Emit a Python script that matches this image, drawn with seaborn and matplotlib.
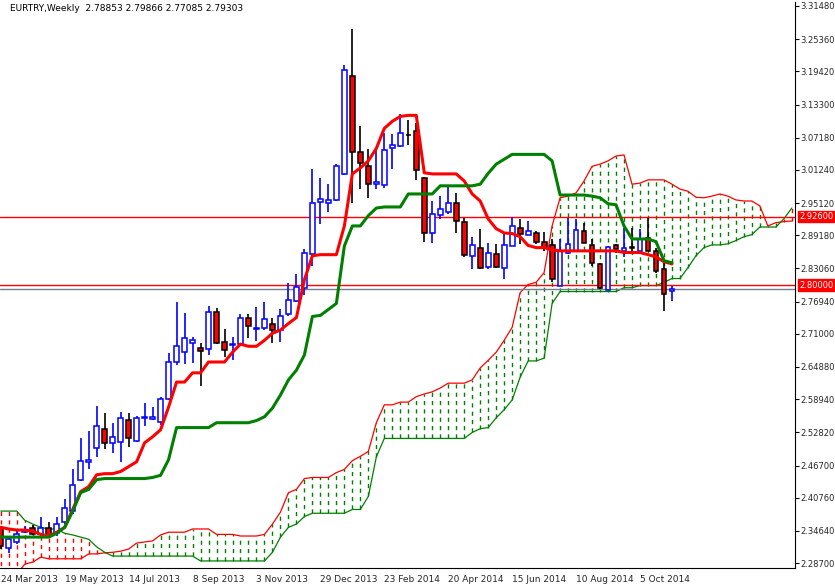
import matplotlib
matplotlib.use("Agg")
import matplotlib.pyplot as plt
import seaborn as sns
import numpy as np
import pandas as pd

sns.set_style("white")
plt.rcParams['font.family'] = ['DejaVu Sans']

opens = [2.351,2.315,2.326,2.344,2.351,2.340,2.351,2.342,2.362,2.383,2.441,2.474,2.500,2.535,2.509,2.511,2.551,2.513,2.555,2.553,
         2.548,2.590,2.658,2.676,2.693,2.683,2.682,2.750,2.695,2.689,2.691,2.739,2.718,2.720,2.729,2.717,2.746,2.770,2.795,2.858,
         2.953,2.951,2.957,3.005,3.185,3.045,3.019,2.986,2.984,3.052,3.056,3.076,3.084,2.997,2.896,2.929,2.935,2.951,2.917,2.854,
         2.869,2.834,2.858,2.832,2.872,2.905,2.893,2.896,2.880,2.874,2.799,2.860,2.862,2.900,2.874,2.838,2.790,2.874,2.863,2.869,
         2.863,2.887,2.862,2.829,2.7885]
highs = [2.355,2.333,2.346,2.355,2.357,2.373,2.362,2.373,2.405,2.461,2.518,2.531,2.577,2.564,2.546,2.566,2.564,2.559,2.583,2.575,
         2.594,2.674,2.768,2.748,2.704,2.693,2.761,2.757,2.718,2.704,2.746,2.746,2.759,2.768,2.740,2.755,2.803,2.821,2.867,3.014,
         2.997,2.986,3.023,3.206,3.273,3.093,3.051,3.051,3.080,3.078,3.115,3.104,3.098,2.999,2.955,2.964,2.981,2.970,2.924,2.889,
         2.904,2.878,2.875,2.894,2.926,2.922,2.918,2.900,2.898,2.885,2.884,2.924,2.922,2.915,2.885,2.841,2.872,2.876,2.905,2.905,
         2.904,2.924,2.869,2.841,2.7987]
lows = [2.313,2.306,2.322,2.342,2.338,2.335,2.335,2.337,2.359,2.377,2.438,2.461,2.483,2.498,2.491,2.474,2.502,2.511,2.540,2.551,
        2.542,2.588,2.652,2.654,2.656,2.614,2.671,2.691,2.667,2.662,2.689,2.702,2.696,2.717,2.693,2.695,2.742,2.768,2.781,2.836,
        2.913,2.935,2.955,3.003,2.951,2.977,2.961,2.977,2.979,3.014,3.054,3.058,2.994,2.880,2.878,2.922,2.931,2.896,2.852,2.829,
        2.830,2.830,2.832,2.812,2.872,2.876,2.893,2.876,2.863,2.805,2.799,2.858,2.862,2.878,2.836,2.792,2.790,2.860,2.851,2.863,
        2.863,2.862,2.823,2.753,2.7709]
closes = [2.318,2.331,2.340,2.348,2.340,2.351,2.337,2.359,2.388,2.432,2.476,2.478,2.540,2.509,2.520,2.555,2.518,2.555,2.556,2.557,
          2.590,2.658,2.687,2.702,2.698,2.678,2.750,2.693,2.680,2.691,2.740,2.724,2.720,2.737,2.717,2.742,2.773,2.797,2.860,2.951,
          2.959,2.957,3.019,3.197,3.045,3.025,2.986,2.990,3.049,3.058,3.080,3.076,3.012,2.896,2.931,2.940,2.951,2.918,2.856,2.873,
          2.832,2.860,2.834,2.874,2.909,2.894,2.900,2.880,2.869,2.812,2.863,2.876,2.902,2.878,2.840,2.794,2.871,2.867,2.869,2.868,
          2.885,2.863,2.825,2.783,2.7930]

tenkan = [2.353,2.350,2.348,2.348,2.346,2.340,2.337,2.344,2.353,2.386,2.419,2.428,2.450,2.452,2.452,2.456,2.465,2.474,2.509,2.520,
          2.533,2.575,2.621,2.621,2.638,2.638,2.658,2.658,2.658,2.676,2.691,2.687,2.687,2.698,2.711,2.717,2.729,2.740,2.810,2.854,
          2.856,2.856,2.856,2.909,3.005,3.016,3.029,3.052,3.089,3.102,3.111,3.113,3.113,3.007,3.005,3.005,3.005,3.005,2.992,2.968,
          2.955,2.922,2.904,2.896,2.895,2.889,2.873,2.869,2.869,2.865,2.863,2.863,2.863,2.863,2.863,2.863,2.863,2.863,2.860,2.860,
          2.860,2.856,2.852,2.843,2.839]
kijun = [2.335,2.335,2.335,2.335,2.335,2.335,2.335,2.342,2.353,2.383,2.417,2.423,2.441,2.443,2.443,2.443,2.443,2.443,2.443,2.445,
         2.449,2.478,2.537,2.537,2.537,2.537,2.537,2.546,2.546,2.546,2.546,2.546,2.550,2.557,2.573,2.597,2.625,2.643,2.671,2.742,
         2.744,2.755,2.766,2.872,2.909,2.909,2.928,2.942,2.944,2.944,2.944,2.968,2.968,2.968,2.968,2.983,2.983,2.983,2.983,2.983,
         2.986,3.006,3.023,3.032,3.041,3.041,3.041,3.041,3.041,3.029,2.966,2.966,2.966,2.966,2.964,2.961,2.950,2.948,2.909,2.885,
         2.885,2.885,2.880,2.845,2.841]
span_a = [2.267,2.267,2.267,2.285,2.289,2.298,2.295,2.295,2.295,2.295,2.295,2.304,2.304,2.306,2.307,2.309,2.313,2.324,2.326,2.328,
          2.339,2.344,2.344,2.344,2.350,2.350,2.350,2.340,2.340,2.340,2.337,2.337,2.337,2.340,2.359,2.381,2.417,2.423,2.443,2.445,
          2.445,2.445,2.454,2.460,2.476,2.484,2.493,2.546,2.579,2.579,2.584,2.584,2.594,2.599,2.603,2.610,2.619,2.619,2.619,2.625,
          2.647,2.661,2.676,2.698,2.722,2.786,2.801,2.805,2.823,2.909,2.961,2.964,2.970,2.992,3.019,3.023,3.029,3.038,3.040,2.986,
          2.988,2.994,2.994,2.994,2.986,2.977,2.973,2.962,2.961,2.964,2.968,2.964,2.957,2.955,2.955,2.946,2.909,2.915,2.917,2.918]
span_b = [2.383,2.383,2.383,2.366,2.359,2.353,2.350,2.350,2.342,2.339,2.335,2.331,2.317,2.307,2.300,2.300,2.300,2.300,2.300,2.300,
          2.300,2.300,2.300,2.300,2.300,2.291,2.291,2.291,2.291,2.291,2.291,2.291,2.291,2.291,2.307,2.335,2.353,2.359,2.373,2.379,
          2.379,2.379,2.379,2.379,2.386,2.386,2.410,2.483,2.517,2.517,2.517,2.517,2.517,2.517,2.517,2.517,2.517,2.517,2.517,2.528,
          2.535,2.537,2.555,2.570,2.588,2.630,2.660,2.660,2.665,2.766,2.788,2.788,2.788,2.788,2.788,2.788,2.788,2.788,2.795,2.795,
          2.799,2.799,2.799,2.805,2.812,2.812,2.832,2.854,2.869,2.874,2.874,2.876,2.882,2.889,2.893,2.907,2.907,2.907,2.922,2.942]

date_labels = ["24 Mar 2013","19 May 2013","14 Jul 2013","8 Sep 2013","3 Nov 2013","29 Dec 2013",
               "23 Feb 2014","20 Apr 2014","15 Jun 2014","10 Aug 2014","5 Oct 2014"]
price_ticks = [3.31480,3.25360,3.19420,3.13300,3.07180,3.01240,2.95120,2.89180,2.83060,2.76940,
               2.71000,2.64880,2.58940,2.52820,2.46700,2.40760,2.34640,2.28700]
level_lines = [2.92600, 2.80000]
bid = 2.79303

W, H = 835, 584
fig = plt.figure(figsize=(W/100, H/100), dpi=100)
ax = fig.add_axes([0, 16/H, 795/W, 566/H])

n = len(opens)
idx = np.arange(n)
o, h, l, c = map(np.array, (opens, highs, lows, closes))

ci = np.arange(len(span_a))
a, b = np.array(span_a), np.array(span_b)
for i in ci:
    col = "#008000" if a[i] >= b[i] else "#ff0000"
    ax.vlines(i, min(a[i], b[i]), max(a[i], b[i]), colors=col, linestyles=(0, (3, 3)), lw=1, zorder=1)
ax.plot(ci, a, color="#ff0000", lw=0.9, zorder=2)
ax.plot(ci, b, color="#008000", lw=0.9, zorder=2)

for lv in level_lines:
    ax.axhline(lv, color="#ff0000", lw=1, zorder=2)
ax.axhline(bid, color="#708090", lw=1, zorder=2)

up = c > o
dn = c < o
wick_col = np.where(up, "#0000ff", "black")
ax.vlines(idx, l, h, colors=wick_col, lw=1.2, zorder=3)
body_lo = np.minimum(o, c)
body_h = np.maximum(np.abs(c - o), 0.0015)
fc = np.where(up, "white", np.where(dn, "#ff0000", "black"))
ec = np.where(up, "#0000ff", "black")
ax.bar(idx, body_h, bottom=body_lo, width=0.6, color=fc, edgecolor=ec, linewidth=1.1, zorder=4)

df = pd.DataFrame({"i": idx, "tenkan": tenkan, "kijun": kijun})
sns.lineplot(data=df, x="i", y="tenkan", color="#ff0000", lw=2.2, ax=ax, zorder=5)
sns.lineplot(data=df, x="i", y="kijun", color="#008000", lw=2.2, ax=ax, zorder=5)

ax.set_xlim(-0.1, 99.4)
ax.set_ylim(2.2780, 3.3221)
ax.set_xlabel("")
ax.set_ylabel("")
ax.set_xticks(np.arange(0, 8 * len(date_labels), 8))
ax.set_xticklabels(date_labels, fontsize=6.5)
for t in ax.get_xticklabels():
    t.set_horizontalalignment("left")
ax.yaxis.tick_right()
ax.set_yticks(price_ticks)
ax.set_yticklabels([f"{p:.5f}" for p in price_ticks], fontsize=6)
ax.tick_params(axis="y", length=3, width=0.8, color="black", pad=1)
ax.tick_params(axis="x", length=3, width=0.8, color="black", pad=2)
for s in ax.spines.values():
    s.set_color("black")
    s.set_linewidth(0.8)
ax.spines["top"].set_visible(False)
ax.spines["left"].set_visible(False)

for lv in level_lines:
    ax.text(1.005, lv, f"{lv:.5f}", transform=ax.get_yaxis_transform(), fontsize=6, color="white",
            va="center", ha="left",
            bbox=dict(boxstyle="square,pad=0.15", fc="#ff0000", ec="#ff0000"), zorder=10, clip_on=False)

ax.text(0.012, 0.997, "EURTRY,Weekly  2.78853 2.79866 2.77085 2.79303", transform=ax.transAxes,
        fontsize=6.5, va="top", ha="left", color="black")

fig.savefig("out.png", dpi=100)
